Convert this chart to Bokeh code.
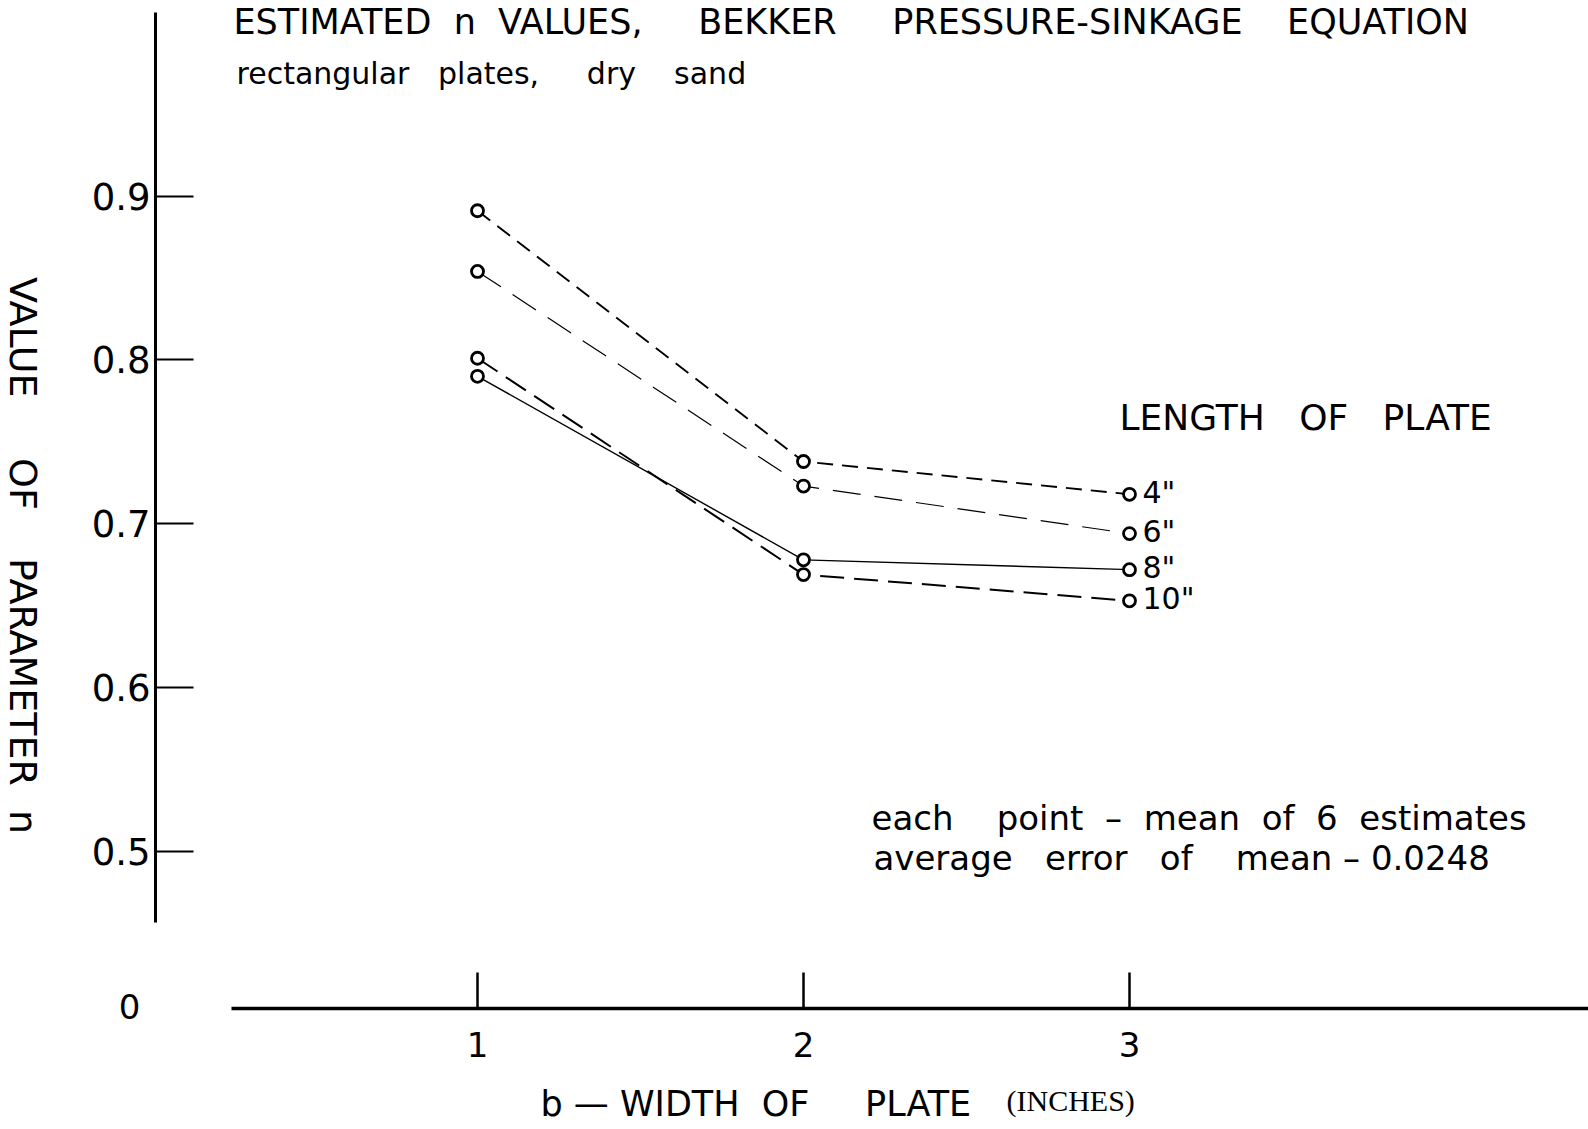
import math
from bokeh.plotting import figure
from bokeh.models import Label, FixedTicker, Range1d, ColumnDataSource
from bokeh.core.properties import value
from bokeh.embed import file_html
from bokeh.resources import INLINE

# ---- data ----
widths = [1, 2, 3]                       # b - width of plate (inches)
n_4in = [0.891, 0.738, 0.718]            # length of plate 4"
n_6in = [0.854, 0.723, 0.694]            # length of plate 6"
n_8in = [0.790, 0.678, 0.672]            # length of plate 8"
n_10in = [0.801, 0.669, 0.653]           # length of plate 10"
series_labels = ['4"', '6"', '8"', '10"']
x_ticks = [1, 2, 3]
y_ticks = [0.5, 0.6, 0.7, 0.8, 0.9]

FONT = "DejaVu Sans"
W, H = 1588, 1129

# frame covers the whole canvas; axes are placed with fixed_location
X0, X1 = -0.4632, 4.408
Y0, Y1 = 0.3304, 1.0193

def gx(px):
    """page pixel -> data x (for placing annotation texts)"""
    return X0 + (X1 - X0) * px / W

def gy(py):
    """page pixel (from top) -> data y (for placing annotation texts)"""
    return Y1 - (Y1 - Y0) * py / H

p = figure(width=W, height=H, output_backend="svg", toolbar_location=None,
           x_range=Range1d(X0, X1), y_range=Range1d(Y0, Y1),
           min_border_left=0, min_border_right=0, min_border_top=0,
           min_border_bottom=0)
p.outline_line_color = None
p.xgrid.visible = False
p.ygrid.visible = False
p.background_fill_color = "white"
p.border_fill_color = "white"

xa = p.xaxis[0]
xa.fixed_location = 0.404          # broken axis: the x axis sits at n = 0
xa.ticker = FixedTicker(ticks=x_ticks)
xa.bounds = (0.245, X1)
xa.axis_line_width = 3.5
xa.axis_line_color = "black"
xa.major_tick_in = 36
xa.major_tick_out = 0
xa.minor_tick_in = 0
xa.minor_tick_out = 0
xa.major_tick_line_width = 2.5
xa.major_label_text_font = FONT
xa.major_label_text_font_size = "34px"
xa.major_label_text_color = "black"
xa.major_label_standoff = 23

ya = p.yaxis[0]
ya.fixed_location = 0.0123
ya.ticker = FixedTicker(ticks=y_ticks)
ya.bounds = (0.457, 1.012)
ya.axis_line_width = 3
ya.axis_line_color = "black"
ya.major_tick_in = 38
ya.major_tick_out = 0
ya.minor_tick_in = 0
ya.minor_tick_out = 0
ya.major_tick_line_width = 2
ya.major_label_text_font = FONT
ya.major_label_text_font_size = "37px"
ya.major_label_text_color = "black"
ya.major_label_standoff = 5

styles = [
    (n_4in, "16 9", 1.9),
    (n_6in, "28 14", 1.2),
    (n_8in, "solid", 1.4),
    (n_10in, "24 10", 2.0),
]
for vals, dash, lw in styles:
    p.line(widths, vals, line_color="black", line_width=lw, line_dash=dash)
    p.scatter(widths, vals, marker="circle", size=12, fill_color="white",
              line_color="black", line_width=2.8)

last = [n_4in[-1], n_6in[-1], n_8in[-1], n_10in[-1]]
src = ColumnDataSource(dict(x=[widths[-1]] * 4, y=last, t=series_labels))
p.text(x="x", y="y", text="t", source=src, x_offset=13, y_offset=-2,
       text_font=value(FONT), text_font_size="30px", text_color="black",
       text_baseline="middle", text_align="left")

NB = "\u00a0"

def lab(px, py, text, size="34px", align="left", angle=0.0, font=FONT,
        baseline="middle"):
    p.add_layout(Label(x=gx(px), y=gy(py), text=text, text_font=font,
                       text_font_size=size, text_align=align,
                       text_baseline=baseline, angle=angle, text_color="black"))

lab(233, 21, "ESTIMATED" + NB * 2 + "n" + NB * 2 + "VALUES," + NB * 5 + "BEKKER" + NB * 5
    + "PRESSURE-SINKAGE" + NB * 4 + "EQUATION", "35px")
lab(236, 73, "rectangular" + NB * 3 + "plates," + NB * 5 + "dry" + NB * 4 + "sand", "30px")
lab(1119, 417, "LENGTH" + NB * 3 + "OF" + NB * 3 + "PLATE", "36px")
lab(871, 817, "each" + NB * 4 + "point" + NB * 2 + "–" + NB * 2 + "mean" + NB * 2 + "of"
    + NB * 2 + "6" + NB * 2 + "estimates", "34px")
lab(873, 857, "average" + NB * 3 + "error" + NB * 3 + "of" + NB * 4 + "mean – 0.0248", "34px")
lab(129, 1006, "0", "34px", align="center")
lab(22, 555, "VALUE" + NB * 5 + "OF" + NB * 4 + "PARAMETER" + NB * 2 + "n", "38px",
    align="center", angle=-math.pi / 2)
lab(540, 1103, "b — WIDTH" + NB * 2 + "OF" + NB * 5 + "PLATE", "35px")
lab(1006, 1100, "(INCHES)", "30px", font="Liberation Serif")

open("out.html", "w").write(file_html(p, INLINE))
